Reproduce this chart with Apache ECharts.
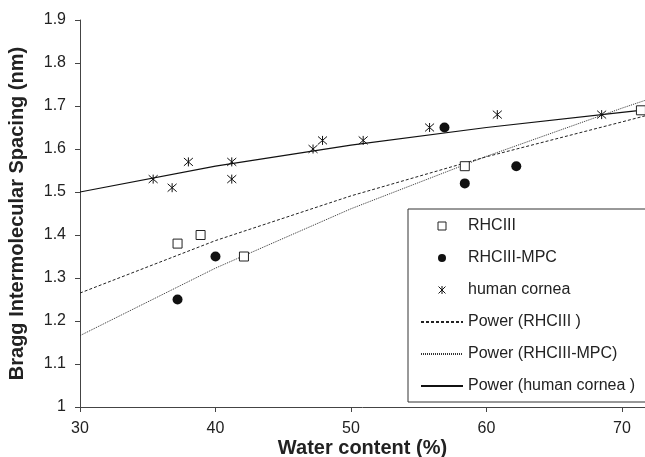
<!DOCTYPE html>
<html>
<head>
<meta charset="utf-8">
<title>Bragg spacing vs water content</title>
<script src="https://cdn.jsdelivr.net/npm/echarts@6/dist/echarts.min.js"></script>
<style>
    html, body { margin: 0; padding: 0; background: #fff; }
    #main { width: 645px; height: 457px; }
</style>
</head>
<body>
<div id="main"></div>
<script type="text/javascript">
    var rhcX = [37.2, 38.9, 42.1, 58.4, 71.4];
    var rhcY = [1.38, 1.40, 1.35, 1.56, 1.69];
    var mpcX = [37.2, 40.0, 56.9, 58.4, 62.2];
    var mpcY = [1.25, 1.35, 1.65, 1.52, 1.56];
    var corneaX = [35.4, 36.8, 38.0, 41.2, 41.2, 47.2, 47.9, 50.9, 55.8, 60.8, 68.5];
    var corneaY = [1.53, 1.51, 1.57, 1.57, 1.53, 1.60, 1.62, 1.62, 1.65, 1.68, 1.68];

    // power trendlines at these x values
    var trendX = [30, 40, 50, 60, 70, 71.7];
    var rhcTrend = [1.265, 1.387, 1.491, 1.582, 1.663, 1.677];
    var mpcTrend = [1.166, 1.323, 1.461, 1.583, 1.695, 1.713];
    var corneaTrend = [1.500, 1.560, 1.609, 1.650, 1.685, 1.691];

    var xTicks = [30, 40, 50, 60, 70];
    var names = ['RHCIII', 'RHCIII-MPC', 'human cornea',
                 'Power (RHCIII )', 'Power (RHCIII-MPC)', 'Power (human cornea )'];

    var FONT = '"Liberation Sans", Arial, sans-serif';
    var STAR = 'path://M-4,-4L4,4M-4,4L4,-4M0,-4.6L0,4.6';
    var SQUARE = 'path://M0,0L7,0L7,7L0,7Z';

    function pairs(xs, ys) {
        return xs.map(function (x, i) { return [x, ys[i]]; });
    }

    var myChart = echarts.init(document.getElementById('main'), null, { renderer: 'canvas' });

    var hideDot = { color: 'rgba(0,0,0,0)', borderWidth: 0, opacity: 0 };

    var option = {
        animation: false,
        backgroundColor: '#fff',
        textStyle: { fontFamily: FONT },
        grid: { left: 80, right: 0, top: 20, bottom: 50, containLabel: false, outerBoundsMode: 'none' },
        xAxis: {
            type: 'value',
            min: 30,
            max: 71.7,
            interval: 10,
            name: 'Water content (%)',
            nameLocation: 'middle',
            nameGap: 31,
            nameMoveOverlap: false,
            nameTextStyle: { fontFamily: FONT, fontSize: 20, fontWeight: 'bold', color: '#222' },
            axisLine: { lineStyle: { color: '#444', width: 1 } },
            axisTick: { show: true, length: 5, customValues: xTicks, lineStyle: { color: '#444' } },
            axisLabel: { customValues: xTicks, fontFamily: FONT, fontSize: 16, color: '#222', margin: 14 },
            splitLine: { show: false }
        },
        yAxis: {
            type: 'value',
            min: 1,
            max: 1.9,
            interval: 0.1,
            name: 'Bragg Intermolecular Spacing (nm)',
            nameLocation: 'middle',
            nameGap: 53,
            nameMoveOverlap: false,
            nameTextStyle: { fontFamily: FONT, fontSize: 20, fontWeight: 'bold', color: '#222' },
            axisLine: { show: true, lineStyle: { color: '#444', width: 1 } },
            axisTick: { show: true, length: 5, lineStyle: { color: '#444' } },
            axisLabel: { fontFamily: FONT, fontSize: 16, color: '#222', margin: 14 },
            splitLine: { show: false }
        },
        legend: {
            orient: 'vertical',
            left: 408,
            top: 209,
            padding: [9, 12, 8, 12],
            itemWidth: 42,
            itemHeight: 8,
            itemGap: 16,
            borderColor: '#333',
            borderWidth: 1,
            backgroundColor: '#fff',
            textStyle: { fontFamily: FONT, fontSize: 16, lineHeight: 16, color: '#222' },
            data: [
                { name: names[0], icon: SQUARE, itemStyle: { color: '#fff', borderColor: '#222', borderWidth: 1 } },
                { name: names[1], icon: 'circle', itemStyle: { color: '#111', borderWidth: 0 } },
                { name: names[2], icon: STAR, itemStyle: { color: '#111', borderColor: '#111', borderWidth: 1 } },
                { name: names[3], itemStyle: hideDot },
                { name: names[4], itemStyle: hideDot },
                { name: names[5], itemStyle: hideDot }
            ]
        },
        series: [
            {
                name: names[3], type: 'line', symbol: 'none', silent: true, z: 2,
                itemStyle: { color: '#222' },
                lineStyle: { color: '#222', width: 1, type: [3, 2] },
                data: pairs(trendX, rhcTrend)
            },
            {
                name: names[4], type: 'line', symbol: 'none', silent: true, z: 2,
                itemStyle: { color: '#333' },
                lineStyle: { color: '#333', width: 1, type: [1, 1] },
                data: pairs(trendX, mpcTrend)
            },
            {
                name: names[5], type: 'line', symbol: 'none', silent: true, z: 2,
                itemStyle: { color: '#111' },
                lineStyle: { color: '#111', width: 1.2, type: 'solid' },
                data: pairs(trendX, corneaTrend)
            },
            {
                name: names[0], type: 'scatter', symbol: 'rect', symbolSize: 9, z: 3,
                itemStyle: { color: '#fff', borderColor: '#222', borderWidth: 1, opacity: 1 },
                data: pairs(rhcX, rhcY)
            },
            {
                name: names[1], type: 'scatter', symbol: 'circle', symbolSize: 10, z: 3,
                itemStyle: { color: '#111', opacity: 1 },
                data: pairs(mpcX, mpcY)
            },
            {
                name: names[2], type: 'scatter', symbol: STAR, symbolSize: 9, z: 3,
                itemStyle: { color: '#111', borderColor: '#111', borderWidth: 1, opacity: 1 },
                data: pairs(corneaX, corneaY)
            }
        ]
    };

    myChart.setOption(option);
</script>
</body>
</html>
